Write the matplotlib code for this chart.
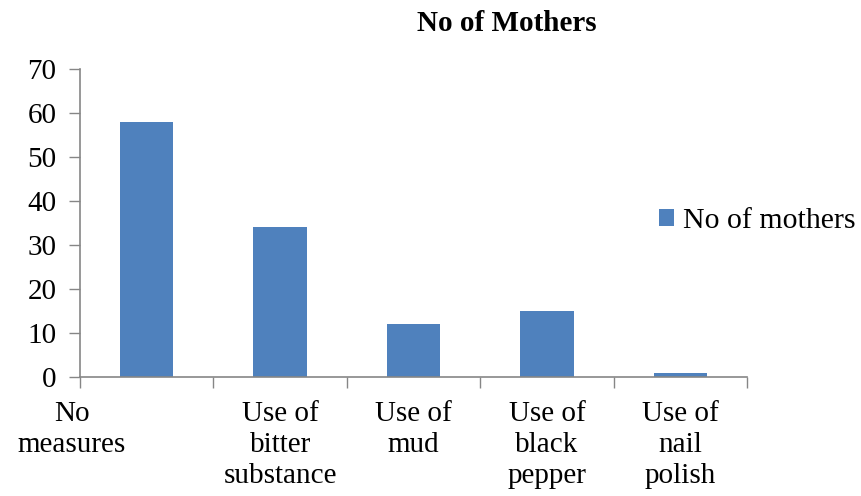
import matplotlib.pyplot as plt
import matplotlib.transforms as mtransforms
import numpy as np

categories = ["No\nmeasures", "Use of\nbitter\nsubstance", "Use of\nmud",
              "Use of\nblack\npepper", "Use of\nnail\npolish"]
mothers = [58, 34, 12, 15, 1]
series_name = "No of mothers"

bar_color = "#4F81BD"
axis_color = "#868686"

plt.rcParams["font.family"] = ["Liberation Serif", "DejaVu Serif"]

fig = plt.figure(figsize=(8.62, 4.96), dpi=100)
ax = fig.add_axes([0.0928, 0.24, 0.7738, 0.621])

x = np.arange(len(categories))
ax.bar(x, mothers, width=0.4, color=bar_color, label=series_name, zorder=2)

ax.set_xlim(-0.5, len(categories) - 0.5)
ax.set_ylim(0, 70)
ax.set_yticks(range(0, 71, 10))

# labels sit at the bar centres, tick marks at the category boundaries
ax.set_xticks(x)
ax.set_xticklabels(categories, linespacing=1.25)
ax.set_xticks(np.arange(len(categories) + 1) - 0.5, minor=True)
ax.tick_params(axis="x", which="major", length=0, pad=17, labelsize=21)
ax.tick_params(axis="x", which="minor", length=8, width=1, color=axis_color, direction="out")
ax.tick_params(axis="y", length=8, width=1, color=axis_color, direction="out", pad=9, labelsize=21)

# first label is pushed out to the left
first = ax.get_xticklabels()[0]
first.set_transform(first.get_transform() +
                    mtransforms.ScaledTranslation(-0.75, 0, fig.dpi_scale_trans))

for side in ("top", "right"):
    ax.spines[side].set_visible(False)
for side in ("left", "bottom"):
    ax.spines[side].set_color(axis_color)
    ax.spines[side].set_linewidth(1.2)

fig.text(0.588, 0.953, "No of Mothers", ha="center", va="center",
         fontsize=21, fontweight="bold")

ax.legend(loc="center left", bbox_to_anchor=(0.733, 0.555),
          bbox_transform=fig.transFigure, frameon=False, fontsize=21.5,
          handlelength=0.5, handleheight=0.5, handletextpad=0.3)

fig.savefig("out.png", dpi=100)
